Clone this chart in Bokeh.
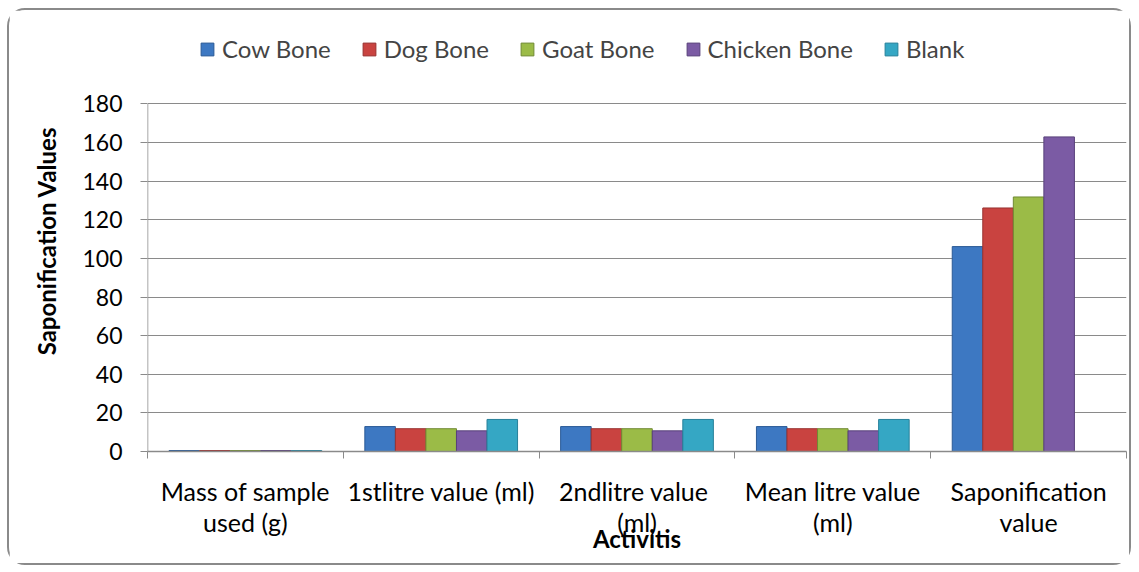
import numpy as np
from bokeh.plotting import figure
from bokeh.models import Range1d, FixedTicker, Legend, LegendItem
from bokeh.embed import file_html
from bokeh.resources import INLINE

categories = ["Mass of sample\nused (g)", "1stlitre value (ml)", "2ndlitre  value\n(ml)",
              "Mean litre value\n(ml)", "Saponification\nvalue"]
series_names = ["Cow Bone", "Dog Bone", "Goat Bone", "Chicken Bone", "Blank"]
cow = [0.5, 12.9, 12.9, 12.9, 106.1]
dog = [0.5, 11.8, 11.8, 11.8, 126.1]
goat = [0.5, 11.8, 11.8, 11.8, 131.8]
chicken = [0.5, 10.7, 10.7, 10.7, 162.9]
blank = [0.5, 16.6, 16.6, 16.6, 0.0]
y_ticks = [0, 20, 40, 60, 80, 100, 120, 140, 160, 180]

fills = ["#3D78C2", "#C94340", "#9BBB47", "#7B5BA4", "#35A7C4"]
lines = ["#2A5A96", "#983230", "#708A33", "#58407A", "#27809A"]
GREY = "#8a8a8a"

FONT = "Lato"
# the frame reaches up to hold the legend; the axis itself stops at the top tick
p = figure(width=1124, height=557, output_backend="svg", toolbar_location=None,
           x_range=Range1d(0, 5), y_range=Range1d(0, 218),
           min_border_left=138, min_border_right=7, min_border_top=20, min_border_bottom=116)
p.margin = (8, 0, 0, 7)
p.styles = {"border": "2px solid #8a8a8a", "border-radius": "18px", "box-sizing": "border-box"}
p.outline_line_color = None
p.background_fill_color = "white"
p.border_fill_color = "white"

bw = 0.156
centers = np.arange(len(categories)) + 0.5
items = []
for k, (name, vals) in enumerate(zip(series_names, [cow, dog, goat, chicken, blank])):
    xs = centers + (k - 2) * bw
    r = p.vbar(x=xs, top=vals, width=bw, bottom=0, fill_color=fills[k],
               line_color=lines[k], line_width=1)
    items.append(LegendItem(label=name, renderers=[r]))

# vertical axis line from first to last tick
p.segment(x0=[0], y0=[y_ticks[0]], x1=[0], y1=[y_ticks[-1]], line_color=GREY, line_width=1.5)

# axes
p.xgrid.visible = False
p.ygrid.grid_line_color = GREY
p.ygrid.grid_line_width = 1
p.yaxis.ticker = FixedTicker(ticks=y_ticks)
p.xaxis.ticker = FixedTicker(ticks=list(centers), minor_ticks=list(np.arange(len(categories) + 1)))
p.xaxis.major_label_overrides = {float(c): lab for c, lab in zip(centers, categories)}
for ax in (p.xaxis, p.yaxis):
    ax.axis_line_color = GREY
    ax.axis_line_width = 1.5
    ax.major_tick_line_color = GREY
    ax.minor_tick_line_color = GREY
    ax.major_label_text_font = FONT
    ax.major_label_text_color = "black"
    ax.axis_label_text_font = FONT
    ax.axis_label_text_font_style = "bold"
    ax.axis_label_text_color = "black"
p.yaxis.axis_line_color = None
p.xaxis.major_label_text_font_size = "25px"
p.yaxis.major_label_text_font_size = "23px"
p.xaxis.major_tick_out = 0
p.xaxis.major_tick_in = 0
p.xaxis.minor_tick_out = 7
p.xaxis.minor_tick_in = 0
p.xaxis.major_label_standoff = 17
p.xaxis.major_label_text_line_height = 1.05
p.xaxis.axis_label = "Activitis"
p.xaxis.axis_label_text_font_size = "24px"
p.xaxis.axis_label_standoff = -16
p.yaxis.minor_tick_out = 0
p.yaxis.minor_tick_in = 0
p.yaxis.major_tick_out = 7
p.yaxis.major_tick_in = 0
p.yaxis.major_label_standoff = 18
p.yaxis.axis_label = "Saponification Values"
p.yaxis.axis_label_text_font_size = "24px"
p.yaxis.axis_label_standoff = 18

legend = Legend(items=items, orientation="horizontal", location=(52, 388),
                glyph_width=16, glyph_height=16, label_standoff=7, spacing=30,
                label_text_font=FONT, label_text_font_size="24px",
                background_fill_alpha=0, border_line_color=None, padding=0, margin=0)
p.add_layout(legend, "center")

open("out.html", "w").write(file_html(p, INLINE))
